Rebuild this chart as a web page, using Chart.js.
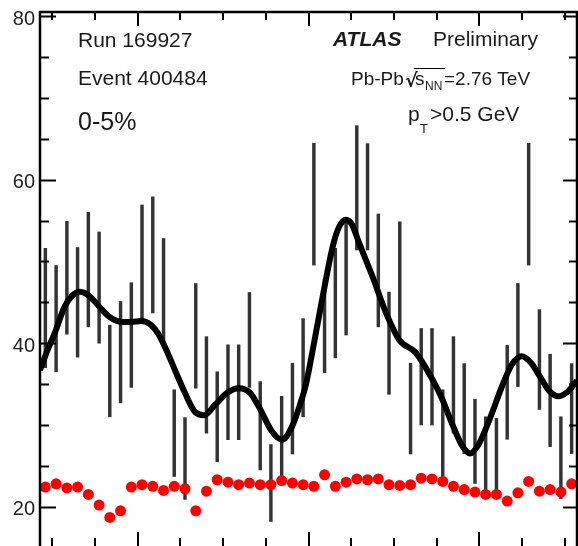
<!DOCTYPE html>
<html><head><meta charset="utf-8">
<script src="https://cdn.jsdelivr.net/npm/chart.js@4"></script>
<style>html,body{margin:0;padding:0;background:#fff;} #wrap{width:578px;height:546px;}</style>
</head><body><div id="wrap"><canvas id="c" width="578" height="546"></canvas></div>
<script>
// bin centres in phi (rad)
const phi = [-3.079,-2.953,-2.827,-2.702,-2.576,-2.450,-2.325,-2.199,-2.073,-1.948,
             -1.822,-1.696,-1.571,-1.445,-1.319,-1.194,-1.068,-0.942,-0.817,-0.691,
             -0.565,-0.440,-0.314,-0.188,-0.063,0.063,0.188,0.314,0.440,0.565,
             0.691,0.817,0.942,1.068,1.194,1.319,1.445,1.571,1.696,1.822,
             1.948,2.073,2.199,2.325,2.450,2.576,2.702,2.827,2.953,3.079];
// per-bin track counts (black points) and their errors
const counts = [44.3,43.0,48.0,45.0,49.0,46.8,36.6,38.9,41.0,49.8,
                50.8,46.1,29.0,25.9,40.9,34.9,31.0,34.0,34.0,40.4,
                29.9,22.9,28.6,32.0,37.0,57.0,42.1,44.9,48.0,59.0,
                57.9,48.9,40.0,47.8,32.0,35.9,35.9,29.0,34.9,32.0,
                28.0,26.0,26.0,34.0,41.0,57.0,38.0,33.0,26.0,32.0];
const errors = [7.3,6.5,6.9,6.7,7.0,6.8,5.6,6.2,6.4,7.1,
                7.1,6.7,5.3,5.0,6.4,5.9,5.5,5.8,5.8,5.8,
                5.4,4.7,4.9,5.55,6.0,7.45,5.7,6.7,7.0,7.6,
                6.5,6.9,6.25,7.05,5.55,5.9,5.9,5.3,5.9,5.5,
                5.15,5.0,4.8,5.75,6.3,7.45,6.1,5.65,5.0,5.5];
// red points (mixed-event / background)
const background = [22.4,22.8,22.3,22.4,21.5,20.2,18.7,19.5,22.4,22.7,
                    22.5,22.0,22.5,22.2,19.5,21.9,23.3,23.0,22.7,22.9,
                    22.7,22.7,23.2,22.9,22.7,22.5,23.9,22.5,23.0,23.4,
                    23.3,23.4,22.7,22.6,22.7,23.5,23.4,23.1,22.5,22.1,
                    21.8,21.5,21.5,20.7,21.7,23.1,21.9,22.1,21.8,22.8];
// smooth fit curve
const fitPhi = [-3.142,-3.048,-2.970,-2.852,-2.767,-2.677,-2.592,-2.501,-2.416,-2.326,
                -2.190,-2.077,-1.956,-1.839,-1.761,-1.682,-1.574,-1.445,-1.328,-1.223,
                -1.090,-0.954,-0.817,-0.681,-0.564,-0.427,-0.310,-0.193,-0.099,-0.029,
                0.064,0.166,0.283,0.357,0.439,0.509,0.594,0.751,0.907,1.062,
                1.258,1.453,1.550,1.694,1.796,1.890,1.983,2.085,2.279,2.381,
                2.494,2.603,2.709,2.814,2.923,3.024,3.142];
const fitVal = [36.7,39.3,41.2,44.5,45.8,46.3,46.0,45.1,44.1,43.2,
                42.6,42.6,42.7,42.2,41.2,39.6,37.0,33.9,31.6,31.2,
                32.5,33.9,34.5,33.9,31.9,29.2,28.2,29.8,32.5,35.0,
                40.0,45.7,51.8,54.2,55.1,54.5,52.2,48.1,43.7,40.4,
                38.8,35.5,33.5,29.8,27.5,26.5,27.5,29.8,35.1,37.4,
                38.4,37.6,35.9,34.2,33.5,34.0,35.4];
// axes
const xRange = [-Math.PI, Math.PI];
const yRange = [15.2, 80.5];
const xTicks = [-3,-2.5,-2,-1.5,-1,-0.5,0,0.5,1,1.5,2,2.5,3];
const xMajor = [-2,0,2];
const yTickStep = 5;
const yLabelEvery = 20;

const FONT = "'Liberation Sans', Arial, Helvetica, sans-serif";

const framePlugin = {
  id: 'frame',
  afterDraw(chart) {
    const {ctx, chartArea: {left, right, top, bottom}, scales: {x, y}} = chart;
    ctx.save();
    ctx.strokeStyle = '#000';
    ctx.lineCap = 'butt';
    const line = (x1, y1, x2, y2) => { ctx.beginPath(); ctx.moveTo(x1, y1); ctx.lineTo(x2, y2); ctx.stroke(); };
    // frame
    ctx.lineWidth = 2.5;
    ctx.beginPath();
    ctx.moveTo(left, bottom + 2); ctx.lineTo(left, top); ctx.lineTo(right, top); ctx.lineTo(right, bottom + 2);
    ctx.stroke();
    // y ticks (inside)
    ctx.lineWidth = 2;
    y.ticks.forEach(t => {
      if (Math.abs(t.value % yTickStep) > 1e-6) return;
      const py = Math.round(y.getPixelForValue(t.value)) + 0.5;
      const major = t.value % yLabelEvery === 0;
      line(left, py, left + (major ? 16 : 9), py);
      line(right, py, right - (major ? 14 : 8), py);
    });
    // x ticks (inside)
    xTicks.forEach(v => {
      const px = Math.round(x.getPixelForValue(v));
      const major = xMajor.includes(v);
      line(px, top, px, top + (major ? 14 : 8));
      line(px, bottom, px, bottom - (major ? 14 : 8));
    });
    // texts
    ctx.fillStyle = '#1a1a1a';
    ctx.textBaseline = 'alphabetic';
    ctx.textAlign = 'left';
    ctx.font = `21px ${FONT}`;
    ctx.fillText('Run 169927', 78, 47);
    ctx.fillText('Event 400484', 78, 85);
    ctx.font = `25px ${FONT}`;
    ctx.fillText('0-5%', 78, 130);
    ctx.font = `italic bold 21px ${FONT}`;
    ctx.fillText('ATLAS', 333, 46);
    ctx.font = `21px ${FONT}`;
    ctx.fillText('Preliminary', 433, 46);
    // Pb-Pb sqrt(s_NN)=2.76 TeV
    ctx.font = `19px ${FONT}`;
    ctx.fillText('Pb-Pb', 351, 85);
    ctx.font = `bold 19px 'DejaVu Sans', ${FONT}`;
    ctx.fillText('\u221A', 405, 87);
    ctx.font = `19px ${FONT}`;
    ctx.fillText('s', 415, 85);
    ctx.font = `12px ${FONT}`;
    ctx.fillText('NN', 425, 90);
    ctx.lineWidth = 1;
    line(414, 68.5, 445, 68.5);
    ctx.font = `19px ${FONT}`;
    ctx.fillText('=2.76 TeV', 444, 85);
    // pT>0.5 GeV
    ctx.font = `21px ${FONT}`;
    ctx.fillText('p', 408, 121);
    ctx.font = `13px ${FONT}`;
    ctx.fillText('T', 420, 133);
    ctx.font = `21px ${FONT}`;
    ctx.fillText('>0.5 GeV', 430, 121);
    ctx.restore();
  }
};

new Chart(document.getElementById('c'), {
  type: 'scatter',
  data: {
    datasets: [
      {
        type: 'scatter', label: 'background',
        data: phi.map((v, i) => ({x: v, y: background[i]})),
        backgroundColor: '#ff0000', borderWidth: 0, pointRadius: 5.5, order: 0
      },
      {
        type: 'line', label: 'fit',
        data: fitPhi.map((v, i) => ({x: v, y: fitVal[i]})),
        borderColor: '#000', borderWidth: 6, pointRadius: 0, fill: false,
        cubicInterpolationMode: 'monotone', order: 1
      },
      {
        type: 'bar', label: 'data',
        data: phi.map((v, i) => ({x: v, y: [counts[i] - errors[i], counts[i] + errors[i]]})),
        backgroundColor: '#333333', barThickness: 2.8, grouped: false, order: 2
      }
    ]
  },
  options: {
    responsive: false, animation: false, devicePixelRatio: 1,
    layout: {autoPadding: false, padding: {top: 12, right: 1, bottom: 0, left: 0}},
    plugins: {legend: {display: false}, tooltip: {enabled: false}},
    scales: {
      x: {type: 'linear', min: xRange[0], max: xRange[1], offset: false, display: false, grid: {offset: false}},
      y: {
        type: 'linear', min: yRange[0], max: yRange[1], position: 'left',
        border: {display: false},
        grid: {display: false, drawTicks: false},
        ticks: {
          stepSize: yTickStep, includeBounds: false, padding: 5, color: '#222',
          labelOffset: 3,
          font: {family: FONT, size: 20},
          callback: v => (v % yLabelEvery === 0 ? String(v) : '')
        },
        afterFit: s => { s.width = 40; s.paddingTop = 0; s.paddingBottom = 0; }
      }
    }
  },
  plugins: [framePlugin]
});
</script></body></html>
